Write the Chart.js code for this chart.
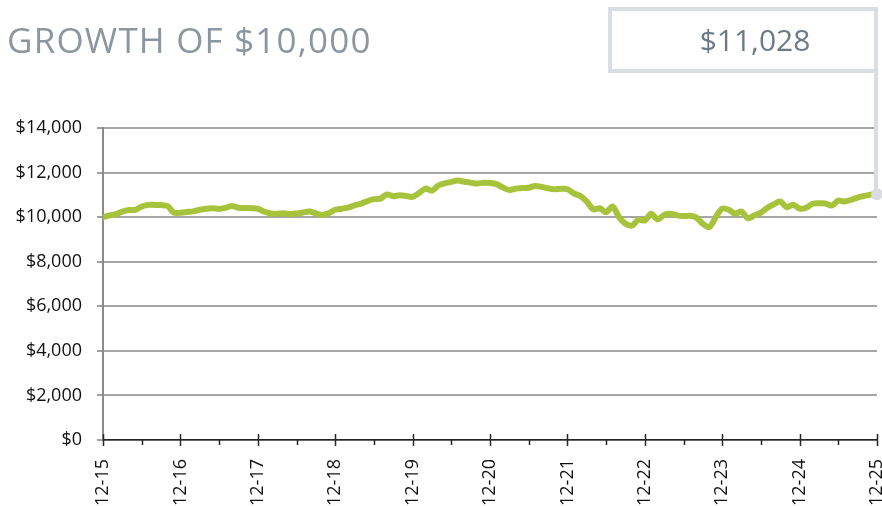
<!DOCTYPE html>
<html>
<head>
<meta charset="utf-8">
<script src="https://cdn.jsdelivr.net/npm/chart.js@4"></script>
<style>
    html, body { margin: 0; padding: 0; background: #fff; }
    #wrap { position: relative; width: 882px; height: 506px; }
    #growthChart { display: block; }
    #title {
        position: absolute; left: 7px; top: 16px;
        font-family: "Open Sans", sans-serif; font-size: 35px; letter-spacing: 1.2px;
        color: #8b969f; white-space: nowrap;
    }
    #endBox {
        position: absolute; left: 608px; top: 7px; width: 262px; height: 58px;
        border: 4px solid #dadde1; box-sizing: content-box;
        font-family: "Open Sans", sans-serif; font-size: 30px; color: #6e7b87;
        display: flex; align-items: center; justify-content: center;
    }
    #endBox span { position: relative; left: 12px; top: -1px; }
</style>
</head>
<body>
<div id="wrap">
    <canvas id="growthChart" width="882" height="506"></canvas>
    <div id="title">GROWTH OF $10,000</div>
    <div id="endBox"><span>$11,028</span></div>
</div>
<script>
// Year-end tick labels (one every 12 months)
const yearLabels = ['12-15', '12-16', '12-17', '12-18', '12-19', '12-20', '12-21', '12-22', '12-23', '12-24', '12-25'];

// Month index 0..120 (Dec 2015 .. Dec 2025)
const months = [];
for (let i = 0; i <= 120; i++) months.push(i);

// Growth of $10,000, monthly
const growth = [
    10000, 10080, 10130, 10250, 10320, 10330, 10480, 10550, 10550, 10540, 10500, 10200, 10200,
    10230, 10260, 10330, 10380, 10400, 10370, 10420, 10500, 10420, 10410, 10400, 10370,
    10250, 10160, 10150, 10170, 10140, 10160, 10210, 10250, 10170, 10100, 10180, 10330,
    10380, 10430, 10530, 10600, 10720, 10810, 10830, 11020, 10940, 10980, 10950, 10910,
    11080, 11280, 11190, 11420, 11520, 11580, 11640, 11590, 11550, 11510, 11540, 11530,
    11480, 11330, 11220, 11280, 11310, 11320, 11400, 11360, 11290, 11250, 11270, 11250,
    11060, 10950, 10700, 10350, 10400, 10220, 10480, 10000, 9700, 9620, 9880, 9850,
    10150, 9900, 10100, 10150, 10080, 10050, 10060, 9980, 9700, 9550, 10000, 10380,
    10330, 10150, 10250, 9950, 10080, 10200, 10420, 10580, 10700, 10450, 10560, 10380,
    10420, 10600, 10620, 10610, 10520, 10740, 10700, 10780, 10880, 10950, 11010, 11028
];

const lineColor = '#a7c33b';
const markerColor = '#d9dce0';

// Connector from the end box down to the last value, plus the x axis tick marks
const extrasPlugin = {
    id: 'extras',
    afterDatasetsDraw(chart) {
        const ctx = chart.ctx;
        const xs = chart.scales.x;
        const ys = chart.scales.y;
        const lastIdx = growth.length - 1;
        const px = xs.getPixelForValue(months[lastIdx]);
        const py = ys.getPixelForValue(growth[lastIdx]);
        ctx.save();
        ctx.strokeStyle = markerColor;
        ctx.lineWidth = 4;
        ctx.beginPath();
        ctx.moveTo(px - 1, 70);
        ctx.lineTo(px - 1, py);
        ctx.stroke();
        ctx.fillStyle = markerColor;
        ctx.beginPath();
        ctx.arc(px, py, 6, 0, Math.PI * 2);
        ctx.fill();
        ctx.restore();
    },
    afterDraw(chart) {
        const ctx = chart.ctx;
        const xs = chart.scales.x;
        const y0 = chart.chartArea.bottom;
        ctx.save();
        ctx.strokeStyle = '#262626';
        ctx.lineWidth = 1.5;
        for (let m = 0; m <= 120; m += 6) {
            const x = Math.round(xs.getPixelForValue(m)) + 0.5;
            ctx.beginPath();
            if (m % 12 === 0) {
                ctx.moveTo(x, y0 - 6);
                ctx.lineTo(x, y0 + 6);
            } else {
                ctx.moveTo(x, y0);
                ctx.lineTo(x, y0 + 5);
            }
            ctx.stroke();
        }
        ctx.restore();
    }
};

const tickFont = { family: '"Open Sans", sans-serif', size: 18 };

new Chart(document.getElementById('growthChart'), {
    type: 'line',
    data: {
        datasets: [{
            data: months.map((m, i) => ({ x: m, y: growth[i] })),
            borderColor: lineColor,
            borderWidth: 6,
            tension: 0.3,
            fill: false,
            pointRadius: 0,
            borderCapStyle: 'round',
            borderJoinStyle: 'round'
        }]
    },
    options: {
        responsive: false,
        animation: false,
        events: [],
        layout: { padding: { top: 128, right: 5, left: 0, bottom: 0 } },
        plugins: {
            legend: { display: false },
            tooltip: { enabled: false }
        },
        scales: {
            x: {
                type: 'linear',
                min: 0,
                max: 120,
                grid: { display: false },
                border: { display: true, color: '#262626', width: 1.5 },
                ticks: {
                    stepSize: 12,
                    autoSkip: false,
                    maxRotation: 90,
                    minRotation: 90,
                    padding: 11,
                    color: '#111',
                    font: tickFont,
                    callback: v => yearLabels[v / 12]
                },
                afterFit(scale) {
                    scale.height = 66;
                    scale.paddingLeft = 0;
                    scale.paddingRight = 0;
                }
            },
            y: {
                min: 0,
                max: 14000,
                grid: {
                    color: '#a6a6a6',
                    lineWidth: 2,
                    drawTicks: true,
                    tickLength: 6,
                    tickColor: '#7f7f7f',
                    tickWidth: 1.5
                },
                border: { display: true, color: '#8a8a8a', width: 2 },
                ticks: {
                    stepSize: 2000,
                    padding: 15,
                    color: '#111',
                    font: tickFont,
                    callback: v => '$' + v.toLocaleString('en-US')
                },
                afterFit(scale) {
                    scale.width = 103;
                }
            }
        }
    },
    plugins: [extrasPlugin]
});
</script>
</body>
</html>
